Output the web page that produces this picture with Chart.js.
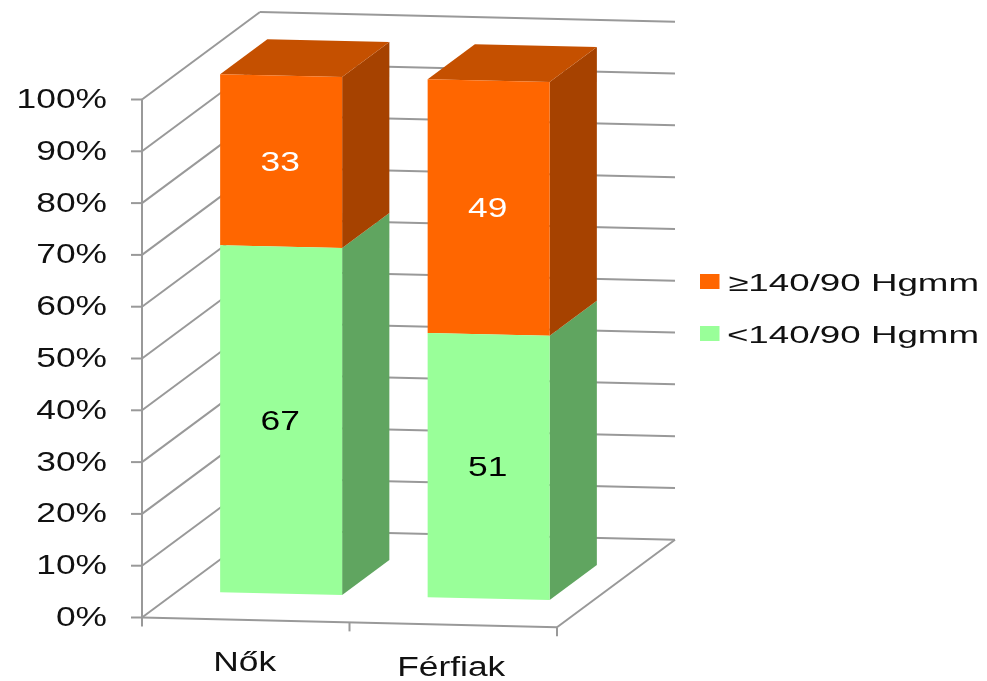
<!DOCTYPE html>
<html>
<head>
<meta charset="utf-8">
<script src="https://cdn.jsdelivr.net/npm/chart.js@4"></script>
<style>
  html, body { margin: 0; padding: 0; background: #fff; }
  canvas { display: block; filter: blur(0.5px); }
</style>
</head>
<body>
<canvas id="chart" width="987" height="681"></canvas>
<script>
const categories = ['Nők', 'Férfiak'];
const below140 = [67, 51];
const above140 = [33, 49];
const seriesLabels = ['<140/90 Hgmm', '≥140/90 Hgmm'];

// fake 3D: oblique projection of the front plane
const SLOPE = 0.0235;
const DEPTH_X = 118;
const DEPTH_Y = 87.5;
const BAR_FRONT = 0.3;
const BAR_BACK = 0.7;
const GRID = '#999999';
const FONT = '"Liberation Sans", Arial, sans-serif';

const colors = [
  { front: '#99ff99', side: '#60a560', top: '#7fd67f' },
  { front: '#ff6600', side: '#a64200', top: '#c55000' }
];

// front plane point + depth fraction -> canvas point
function project(chart, x, y, d) {
  return [x + DEPTH_X * d, y + SLOPE * (x - chart.chartArea.left) - DEPTH_Y * d];
}

function line(ctx, a, b) {
  ctx.beginPath();
  ctx.moveTo(a[0], a[1]);
  ctx.lineTo(b[0], b[1]);
  ctx.stroke();
}

function poly(ctx, pts, fill) {
  ctx.fillStyle = fill;
  ctx.beginPath();
  pts.forEach((p, i) => i ? ctx.lineTo(p[0], p[1]) : ctx.moveTo(p[0], p[1]));
  ctx.closePath();
  ctx.fill();
}

// the reference text is stretched sideways
function wideText(ctx, text, x, y, size, stretch, align, baseline, color) {
  ctx.save();
  ctx.translate(x, y);
  ctx.scale(stretch, 1);
  ctx.font = size + 'px ' + FONT;
  ctx.textAlign = align;
  ctx.textBaseline = baseline;
  ctx.fillStyle = color;
  ctx.fillText(text, 0, 0);
  ctx.restore();
}

const box3d = {
  id: 'box3d',
  beforeDatasetsDraw(chart) {
    const ctx = chart.ctx;
    const { left, right } = chart.chartArea;
    const yScale = chart.scales.y;

    ctx.save();
    ctx.strokeStyle = GRID;
    ctx.lineWidth = 2;

    // walls
    yScale.ticks.forEach(t => {
      const y = yScale.getPixelForValue(t.value);
      line(ctx, [left - 11, y], [left, y]);
      line(ctx, project(chart, left, y, 0), project(chart, left, y, 1));
      line(ctx, project(chart, left, y, 1), project(chart, right, y, 1));
    });
    const y0 = yScale.getPixelForValue(0);
    const y100 = yScale.getPixelForValue(100);
    line(ctx, [left, y100], [left, y0]);

    // floor
    line(ctx, project(chart, left, y0, 0), project(chart, right, y0, 0));
    line(ctx, project(chart, right, y0, 0), project(chart, right, y0, 1));

    // category ticks
    const step = (right - left) / categories.length;
    for (let i = 0; i <= categories.length; i++) {
      const p = project(chart, left + i * step, y0, 0);
      line(ctx, p, [p[0], p[1] + 9]);
    }
    ctx.restore();

    // side and top faces of the bars
    chart.data.datasets.forEach((ds, di) => {
      chart.getDatasetMeta(di).data.forEach(bar => {
        const r = bar.x + bar.width / 2;
        const l = bar.x - bar.width / 2;
        poly(ctx, [
          project(chart, r, bar.y, BAR_FRONT),
          project(chart, r, bar.y, BAR_BACK),
          project(chart, r, bar.base, BAR_BACK),
          project(chart, r, bar.base, BAR_FRONT)
        ], colors[di].side);
        if (di === chart.data.datasets.length - 1) {
          poly(ctx, [
            project(chart, l, bar.y, BAR_FRONT),
            project(chart, l, bar.y, BAR_BACK),
            project(chart, r, bar.y, BAR_BACK),
            project(chart, r, bar.y, BAR_FRONT)
          ], colors[di].top);
        }
      });
    });

    // library bars get the same projection
    ctx.save();
    ctx.transform(1, SLOPE, 0, 1, DEPTH_X * BAR_FRONT, -SLOPE * left - DEPTH_Y * BAR_FRONT);
  },
  afterDatasetsDraw(chart) {
    const ctx = chart.ctx;
    ctx.restore();

    // value labels
    chart.data.datasets.forEach((ds, di) => {
      chart.getDatasetMeta(di).data.forEach((bar, i) => {
        const p = project(chart, bar.x, (bar.y + bar.base) / 2, BAR_FRONT);
        wideText(ctx, String(ds.data[i]), p[0] - 1, p[1] + 2.5, 27, 1.31, 'center', 'middle', di === 1 ? '#fff' : '#000');
      });
    });

    // y tick labels
    const yScale = chart.scales.y;
    yScale.ticks.forEach(t => {
      wideText(ctx, t.label, 107, yScale.getPixelForValue(t.value) + 1, 27, 1.31, 'right', 'middle', '#111');
    });

    // category labels
    const xScale = chart.scales.x;
    categories.forEach((c, i) => {
      const x = xScale.getPixelForValue(i);
      const p = project(chart, x, yScale.getPixelForValue(0), 0);
      wideText(ctx, c, x - 1 - i, p[1] + 51, 27, 1.31, 'center', 'alphabetic', '#111');
    });

    // legend, top series first
    const rows = [[1, 274, 290.7], [0, 326, 342.6]];
    rows.forEach(([di, boxY, base]) => {
      ctx.fillStyle = colors[di].front;
      ctx.fillRect(700, boxY, 19.5, 15);
      wideText(ctx, seriesLabels[di], 979, base, 24, 1.53, 'right', 'alphabetic', '#111');
    });
  }
};

new Chart(document.getElementById('chart').getContext('2d'), {
  type: 'bar',
  data: {
    labels: categories,
    datasets: [
      { label: seriesLabels[0], data: below140, backgroundColor: colors[0].front, clip: false },
      { label: seriesLabels[1], data: above140, backgroundColor: colors[1].front, clip: false }
    ]
  },
  options: {
    responsive: false,
    animation: false,
    layout: { padding: { left: 134, right: 430, top: 99.5, bottom: 55.5 } },
    categoryPercentage: 1,
    barPercentage: 0.588,
    plugins: {
      legend: { display: false },
      tooltip: { enabled: false }
    },
    scales: {
      x: {
        stacked: true,
        grid: { display: false },
        border: { display: false },
        ticks: { display: false }
      },
      y: {
        stacked: true,
        min: 0,
        max: 100,
        grid: { display: false },
        border: { display: false },
        ticks: { display: false, stepSize: 10, callback: v => v + '%' }
      }
    }
  },
  plugins: [box3d]
});
</script>
</body>
</html>
